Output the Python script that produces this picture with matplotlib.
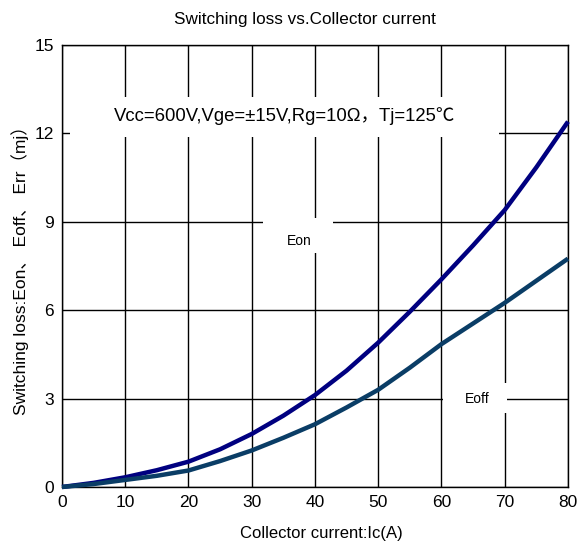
import matplotlib
matplotlib.use('Agg')
import matplotlib.pyplot as plt
from matplotlib.patches import Rectangle

# data
ic = [0, 5, 10, 15, 20, 25, 30, 35, 40, 45, 50, 55, 60, 65, 70, 75, 80]
eon = [0, 0.14, 0.33, 0.57, 0.86, 1.28, 1.8, 2.42, 3.12, 3.95, 4.9, 5.95,
       7.05, 8.2, 9.4, 10.85, 12.4]
eoff = [0, 0.1, 0.24, 0.38, 0.56, 0.88, 1.24, 1.67, 2.13, 2.7, 3.3, 4.05,
        4.85, 5.55, 6.25, 7.0, 7.75]
xticks = [0, 10, 20, 30, 40, 50, 60, 70, 80]
yticks = [0, 3, 6, 9, 12, 15]

fam = ['Liberation Sans', 'Noto Sans CJK SC', 'DejaVu Sans']
plt.rcParams['font.family'] = fam

fig = plt.figure(figsize=(5.81, 5.47), dpi=100)
ax = fig.add_axes([0.1067, 0.1097, 0.8709, 0.808])

ax.set_xlim(0, 80)
ax.set_ylim(0, 15)
ax.set_xticks(xticks)
ax.set_yticks(yticks)
ax.tick_params(length=0, labelsize=12.5, pad=6)
ax.grid(True, color='black', linewidth=1.0)
ax.set_axisbelow(True)
for s in ax.spines.values():
    s.set_color('black')
    s.set_linewidth(1.0)

# white boxes covering the grid under the labels
for (x0, y0, w, h) in [(0.016, 0.792, 0.848, 0.09),
                       (0.397, 0.529, 0.139, 0.08),
                       (0.753, 0.167, 0.126, 0.068)]:
    ax.add_patch(Rectangle((x0, y0), w, h, transform=ax.transAxes,
                           facecolor='white', edgecolor='none', zorder=1.5))

ax.plot(ic, eon, color='#000080', linewidth=3.2, zorder=3, clip_on=False,
        solid_capstyle='butt', solid_joinstyle='round')
ax.plot(ic, eoff, color='#0a3d66', linewidth=3.2, zorder=3, clip_on=False,
        solid_capstyle='butt', solid_joinstyle='round')

ax.text(0.44, 0.84, 'Vcc=600V,Vge=±15V,Rg=10Ω，Tj=125℃', transform=ax.transAxes,
        ha='center', va='center', fontsize=13.3, zorder=4)
ax.text(0.468, 0.556, 'Eon', transform=ax.transAxes, ha='center', va='center',
        fontsize=10, zorder=4)
ax.text(0.82, 0.2, 'Eoff', transform=ax.transAxes, ha='center', va='center',
        fontsize=10, zorder=4)

ax.set_title('Switching loss vs.Collector current', fontsize=12.3, pad=15, x=0.48)
ax.set_xlabel('Collector current:Ic(A)', fontsize=12, labelpad=3)
ax.xaxis.set_label_coords(0.513, -0.088)
ax.set_ylabel('Switching loss:Eon、 Eoff、 Err（mj）', fontsize=12.5, labelpad=4)

fig.savefig('out.png', dpi=100)
